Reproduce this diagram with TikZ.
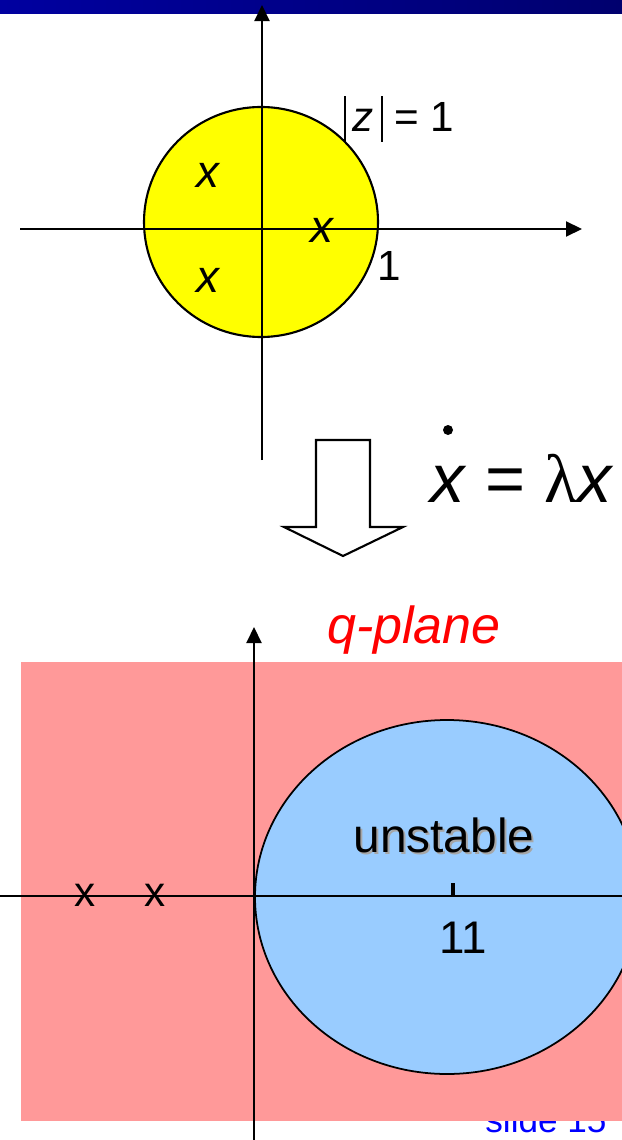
\documentclass[tikz,border=0pt]{standalone}
\usepackage{fontspec}
\setmainfont{Liberation Sans}
\newfontfamily\symfont{Liberation Serif}
\usepackage{tikz}
\usetikzlibrary{arrows.meta}

\definecolor{barblue}{RGB}{0,0,160}
\definecolor{bardark}{RGB}{0,0,110}
\definecolor{pinkbg}{RGB}{255,153,153}
\definecolor{skyfill}{RGB}{153,204,255}
\definecolor{zfill}{RGB}{255,255,0}

\newcommand{\modbar}{\rule[-3pt]{0.6pt}{13pt}}

\tikzset{
	axis/.style={line width=0.6pt,-{Triangle[length=0.16cm,width=0.15cm]}},
	plainaxis/.style={line width=0.6pt},
	lbl/.style={inner sep=0pt,font=\fontsize{12}{14}\selectfont},
	pole/.style={inner sep=0pt,font=\fontsize{13}{15}\selectfont\itshape},
}

\begin{document}
\begin{tikzpicture}[x=0.01cm,y=-0.01cm]
		
		\useasboundingbox (0,0) rectangle (622,1140);
		\clip (0,0) rectangle (622,1140);
		
		% Title bar
		\shade[left color=barblue,right color=bardark] (0,0) rectangle (622,14);
		
		% Unit circle z-plane
		\draw[line width=0.6pt,fill=zfill] (261,222) ellipse (117 and 115);
		
		% axes of the z-plane
		\coordinate (zleft) at (20,229);
		\coordinate (zright) at (582,229);
		\coordinate (zbottom) at (262,460);
		\coordinate (ztop) at (262,5);
		\draw[axis] (zleft) -- (zright);
		\draw[axis] (zbottom) -- (ztop);
		
		% poles inside the circle
		\node[pole] (p1) at (208,175) {x};
		\node[pole] (p2) at (322,230) {x};
		\node[pole] (p3) at (208,280) {x};
		
		% labels of the circle
		\node[lbl,font=\fontsize{12}{14}\selectfont] (zlabel) at (399,119)
		{\modbar\,\textit{z}\,\modbar\;=\;1};
		\node[lbl] (one) at (389,266) {1};
		
		% Block arrow between the planes
		\draw[line width=0.6pt,fill=white]
		(316,440) -- (370,440) -- (370,527) -- (403,527) -- (343,556)
		-- (284,527) -- (316,527) -- cycle;
		
		% Equation of the dynamics
		\node[inner sep=0pt,anchor=base,font=\fontsize{19.5}{22}\selectfont] (dyn) at (522,502)
		{\textit{x} = {\symfont λ}\textit{x}};
		\fill (448,430) circle (5);
		
		% plane title
		\node[inner sep=0pt,anchor=base,red,font=\fontsize{14.8}{17}\selectfont\itshape] (qtitle) at (414,643) {q-plane};
		
		% slide number (half hidden behind the plane)
		\node[inner sep=0pt,anchor=base,blue,font=\fontsize{10}{12}\selectfont] (slidenum) at (546,1132) {slide 15};
		
		% q-plane region
		\fill[pinkbg] (21,662) rectangle (622,1121);
		\draw[line width=0.5pt,fill=skyfill] (447,897) ellipse (192 and 177);
		
		% axes of the q-plane
		\coordinate (qleft) at (0,896);
		\coordinate (qright) at (622,896);
		\coordinate (qbottom) at (254,1140);
		\coordinate (qtop) at (254,627);
		\draw[plainaxis] (qleft) -- (qright);
		\draw[axis] (qbottom) -- (qtop);
		
		% tick at 11
		\draw[line width=1.2pt] (453,883) -- (453,896);
		
		% stable poles
		\node[lbl] (s1) at (85,895) {x};
		\node[lbl] (s2) at (155,895) {x};
		
		% region label with shadow
		\node[inner sep=0pt,anchor=base,gray!70,font=\fontsize{13.6}{16}\selectfont] (unstableshadow) at (446,854) {unstable};
		\node[inner sep=0pt,anchor=base,font=\fontsize{13.6}{16}\selectfont] (unstable) at (444,852) {unstable};
		\node[inner sep=0pt,font=\fontsize{13}{15}\selectfont] (eleven) at (463,938) {11};
		
	\end{tikzpicture}
\end{document}
